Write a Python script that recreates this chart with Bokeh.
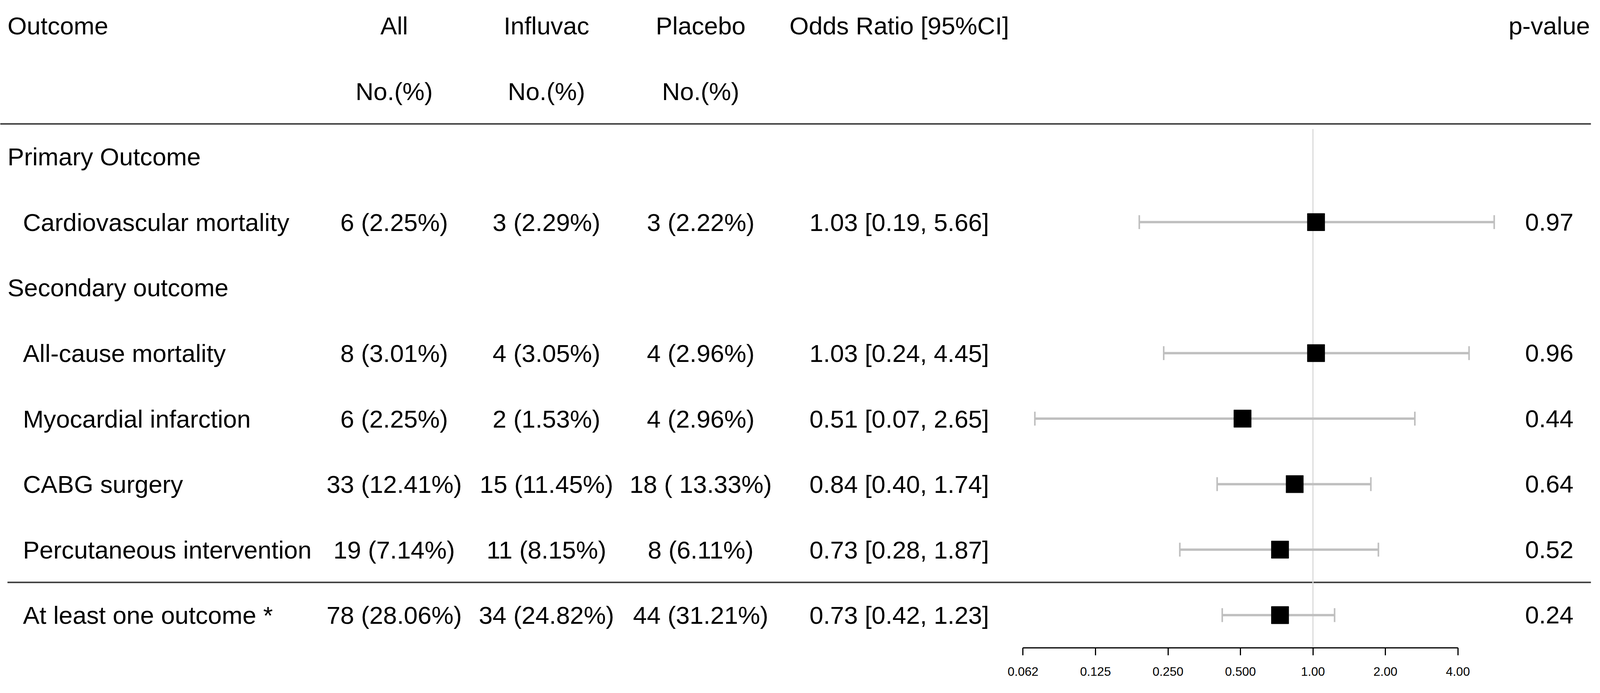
import math
from bokeh.plotting import figure
from bokeh.models import Range1d, LogScale, LogAxis, FixedTicker, ColumnDataSource
from bokeh.core.properties import value
from bokeh.embed import file_html
from bokeh.resources import INLINE

# ---------------- data ----------------
header_cols = ["All", "Influvac", "Placebo"]
sections = ["Primary Outcome", "Secondary outcome"]
outcomes = ["Cardiovascular mortality", "All-cause mortality", "Myocardial infarction",
            "CABG surgery", "Percutaneous intervention", "At least one outcome *"]
all_n = ["6 (2.25%)", "8 (3.01%)", "6 (2.25%)", "33 (12.41%)", "19 (7.14%)", "78 (28.06%)"]
influvac_n = ["3 (2.29%)", "4 (3.05%)", "2 (1.53%)", "15 (11.45%)", "11 (8.15%)", "34 (24.82%)"]
placebo_n = ["3 (2.22%)", "4 (2.96%)", "4 (2.96%)", "18 ( 13.33%)", "8 (6.11%)", "44 (31.21%)"]
or_est = [1.03, 1.03, 0.51, 0.84, 0.73, 0.73]
or_low = [0.19, 0.24, 0.07, 0.40, 0.28, 0.42]
or_high = [5.66, 4.45, 2.65, 1.74, 1.87, 1.23]
p_values = ["0.97", "0.96", "0.44", "0.64", "0.52", "0.24"]
tick_values = [0.0625, 0.125, 0.25, 0.5, 1.0, 2.0, 4.0]
tick_labels = ["0.062", "0.125", "0.250", "0.500", "1.00", "2.00", "4.00"]

# table rows (row index from top)
section_rows = [2, 4]
outcome_rows = [3, 5, 6, 7, 8, 9]

# ---------------- layout ----------------
S = 0.987                # global size factor
W, H = 4150, 1757
ROW0 = 74.0              # reference px of row 0 centre
ROW_PX = 169.8           # reference px per row
AXIS_Y = 1687.0          # reference px of axis line
ref_px = 3413.0          # reference px of OR = 1
px_per_doubling = 188.0

frame_bot_page = AXIS_Y * S
BOTTOM = int(round(H - (frame_bot_page - 8)))

def row_of(px):
    return (px - ROW0) / ROW_PX

x_lo, x_hi = 8 / S, (8 + W) / S
p = figure(width=W, height=H, output_backend="svg", toolbar_location=None,
           x_axis_type=None, y_axis_type=None,
           x_range=Range1d(x_lo, x_hi),
           y_range=Range1d(row_of(AXIS_Y), row_of(8 / S)),
           min_border_left=0, min_border_right=0, min_border_top=0, min_border_bottom=BOTTOM)
p.outline_line_color = None
p.grid.visible = False
p.background_fill_color = "white"
p.border_fill_color = "white"

p.extra_x_ranges = {"log": Range1d(2 ** ((x_lo - ref_px) / px_per_doubling),
                                   2 ** ((x_hi - ref_px) / px_per_doubling))}
p.extra_x_scales = {"log": LogScale()}

FONT = value("Liberation Sans")
FS = f"{64.4 * S:.1f}px"

def txt(xs, ys, texts, align):
    p.text(x=xs, y=ys, text=texts, text_align=align, text_baseline="middle",
           text_font=FONT, text_font_size=FS, text_color="black")

col_x = [1030, 1425, 1825]
or_x, p_x = 2340, 4026

# header
txt([27], [0], ["Outcome"], "left")
txt(col_x, [0, 0, 0], header_cols, "center")
txt(col_x, [1, 1, 1], ["No.(%)"] * 3, "center")
txt([or_x], [0], ["Odds Ratio [95%CI]"], "center")
txt([p_x], [0], ["p-value"], "center")

# sections and outcomes
txt([27] * len(sections), section_rows, sections, "left")
txt([67] * len(outcomes), outcome_rows, outcomes, "left")
txt([col_x[0]] * len(outcomes), outcome_rows, all_n, "center")
txt([col_x[1]] * len(outcomes), outcome_rows, influvac_n, "center")
txt([col_x[2]] * len(outcomes), outcome_rows, placebo_n, "center")
or_text = [f"{e:.2f} [{l:.2f}, {h:.2f}]" for e, l, h in zip(or_est, or_low, or_high)]
txt([or_x] * len(outcomes), outcome_rows, or_text, "center")
txt([p_x] * len(outcomes), outcome_rows, p_values, "center")

# horizontal rules
p.segment(x0=[x_lo, 27], x1=[4134, 4134], y0=[1.5, 8.5], y1=[1.5, 8.5],
          line_color="#454545", line_width=4)

# reference line at OR = 1
p.segment(x0=[1.0], x1=[1.0], y0=[1.58], y1=[row_of(AXIS_Y)], x_range_name="log",
          line_color="#d9d9d9", line_width=3)

# forest plot
cap = 18 / ROW_PX
src = ColumnDataSource(dict(est=or_est, lo=or_low, hi=or_high, y=outcome_rows,
                            y0=[r - cap for r in outcome_rows], y1=[r + cap for r in outcome_rows]))
p.segment(x0="lo", x1="hi", y0="y", y1="y", source=src, x_range_name="log",
          line_color="#bfbfbf", line_width=6)
p.segment(x0="lo", x1="lo", y0="y0", y1="y1", source=src, x_range_name="log",
          line_color="#bfbfbf", line_width=4)
p.segment(x0="hi", x1="hi", y0="y0", y1="y1", source=src, x_range_name="log",
          line_color="#bfbfbf", line_width=4)
p.scatter(x="est", y="y", source=src, x_range_name="log", marker="square",
          size=45 * S, fill_color="black", line_color="black")

# axis
ax = LogAxis(x_range_name="log")
ax.ticker = FixedTicker(ticks=tick_values)
ax.major_label_overrides = {v: l for v, l in zip(tick_values, tick_labels)}
ax.bounds = (tick_values[0], tick_values[-1])
ax.axis_line_color = "black"
ax.axis_line_width = 3
ax.major_tick_line_color = "black"
ax.major_tick_line_width = 3
ax.major_tick_out = int(20 * S)
ax.major_tick_in = 0
ax.minor_tick_line_color = None
ax.major_label_standoff = 30
ax.major_label_text_font = "Liberation Sans"
ax.major_label_text_font_size = f"{32 * S:.1f}px"
ax.major_label_text_color = "black"
p.add_layout(ax, "below")

open("out.html", "w").write(file_html(p, INLINE))
